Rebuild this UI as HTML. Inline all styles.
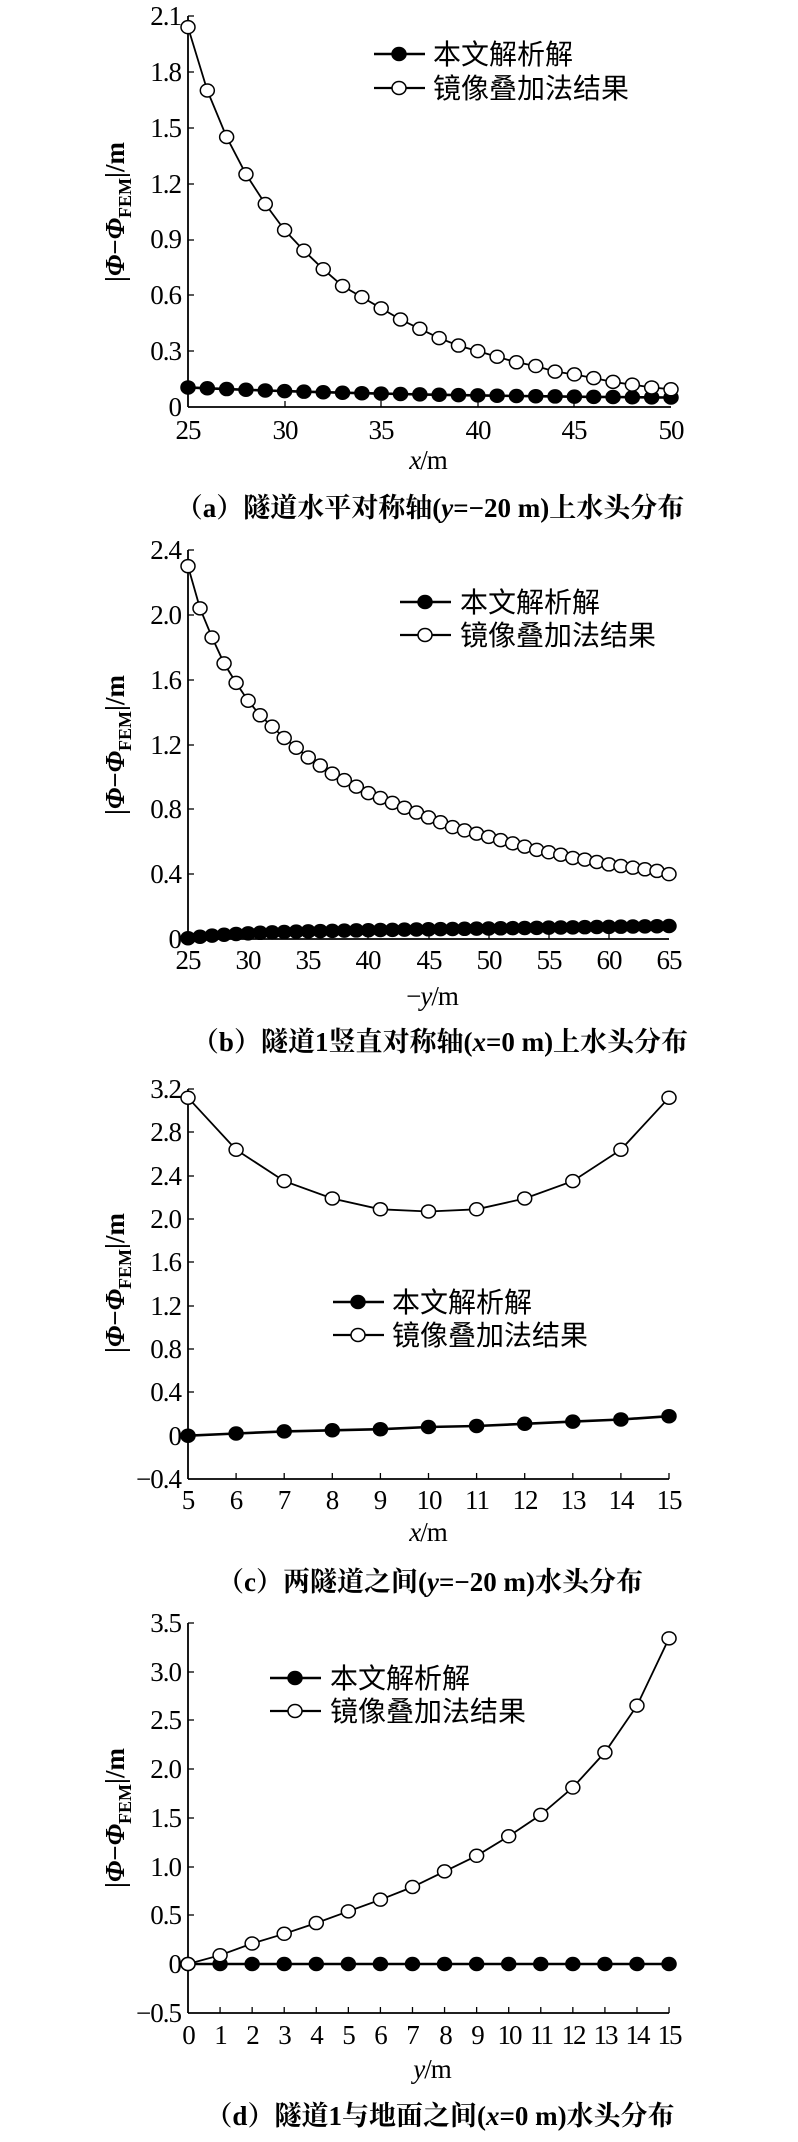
<!DOCTYPE html>
<html><head><meta charset="utf-8"><style>
html,body{margin:0;padding:0;background:#fff;}
svg{display:block;}
text{font-family:"Liberation Serif","Noto Serif CJK SC","Noto Sans CJK SC",serif;fill:#000;}
.t{font-size:27px;letter-spacing:-1px;}
.lg{font-size:28px;font-family:"Liberation Serif","Noto Sans CJK SC",sans-serif;}
.cap{font-size:27px;font-family:"Liberation Serif","Noto Serif CJK SC",serif;font-weight:bold;}
.yl{font-size:27px;font-weight:bold;}
</style></head><body>
<svg id="s" width="798" height="2142" viewBox="0 0 798 2142" xmlns="http://www.w3.org/2000/svg">
<g id="g"></g>
<!-- Panel a -->
<g class="t" text-anchor="end" id="ayl">
<text x="181" y="24">2.1</text><text x="181" y="105">1.8</text><text x="181" y="185">1.5</text><text x="181" y="265">1.2</text><text x="181" y="345">0.9</text><text x="181" y="425">0.6</text><text x="181" y="360">0.3</text><text x="181" y="415">0</text>
</g>
<g class="t" text-anchor="middle">
<text x="188" y="439">25</text><text x="285" y="439">30</text><text x="381" y="439">35</text><text x="478" y="439">40</text><text x="574" y="439">45</text><text x="671" y="439">50</text>
</g>
<text class="t" x="428" y="469" text-anchor="middle"><tspan font-style="italic">x</tspan>/m</text>
<text class="cap" x="430" y="517" text-anchor="middle">（a）隧道水平对称轴(<tspan font-style="italic">y</tspan>=−20 m)上水头分布</text>
<text class="lg" x="433" y="64">本文解析解</text>
<text class="lg" x="433" y="98">镜像叠加法结果</text>
<text class="yl" transform="translate(124,212) rotate(-90)" text-anchor="middle">|<tspan font-style="italic">Φ</tspan>−<tspan font-style="italic">Φ</tspan><tspan font-size="18" dy="7">FEM</tspan><tspan dy="-7">|/m</tspan></text>

<!-- Panel b -->
<g class="t" text-anchor="end">
<text x="181" y="559">2.4</text><text x="181" y="624">2.0</text><text x="181" y="689">1.6</text><text x="181" y="754">1.2</text><text x="181" y="818">0.8</text><text x="181" y="883">0.4</text><text x="181" y="948">0</text>
</g>
<g class="t" text-anchor="middle">
<text x="188" y="969">25</text><text x="248" y="969">30</text><text x="308" y="969">35</text><text x="368" y="969">40</text><text x="429" y="969">45</text><text x="489" y="969">50</text><text x="549" y="969">55</text><text x="609" y="969">60</text><text x="669" y="969">65</text>
</g>
<text class="t" x="432" y="1005" text-anchor="middle">−<tspan font-style="italic">y</tspan>/m</text>
<text class="cap" x="440" y="1051" text-anchor="middle">（b）隧道1竖直对称轴(<tspan font-style="italic">x</tspan>=0 m)上水头分布</text>
<text class="lg" x="460" y="612">本文解析解</text>
<text class="lg" x="460" y="645">镜像叠加法结果</text>
<text class="yl" transform="translate(124,745) rotate(-90)" text-anchor="middle">|<tspan font-style="italic">Φ</tspan>−<tspan font-style="italic">Φ</tspan><tspan font-size="18" dy="7">FEM</tspan><tspan dy="-7">|/m</tspan></text>

<!-- Panel c -->
<g class="t" text-anchor="end">
<text x="181" y="1098">3.2</text><text x="181" y="1141">2.8</text><text x="181" y="1185">2.4</text><text x="181" y="1228">2.0</text><text x="181" y="1271">1.6</text><text x="181" y="1315">1.2</text><text x="181" y="1358">0.8</text><text x="181" y="1401">0.4</text><text x="181" y="1445">0</text><text x="181" y="1488">−0.4</text>
</g>
<g class="t" text-anchor="middle">
<text x="188" y="1509">5</text><text x="236" y="1509">6</text><text x="284" y="1509">7</text><text x="332" y="1509">8</text><text x="380" y="1509">9</text><text x="429" y="1509">10</text><text x="477" y="1509">11</text><text x="525" y="1509">12</text><text x="573" y="1509">13</text><text x="621" y="1509">14</text><text x="669" y="1509">15</text>
</g>
<text class="t" x="428" y="1541" text-anchor="middle"><tspan font-style="italic">x</tspan>/m</text>
<text class="cap" x="430" y="1591" text-anchor="middle">（c）两隧道之间(<tspan font-style="italic">y</tspan>=−20 m)水头分布</text>
<text class="lg" x="392" y="1312">本文解析解</text>
<text class="lg" x="392" y="1345">镜像叠加法结果</text>
<text class="yl" transform="translate(124,1283) rotate(-90)" text-anchor="middle">|<tspan font-style="italic">Φ</tspan>−<tspan font-style="italic">Φ</tspan><tspan font-size="18" dy="7">FEM</tspan><tspan dy="-7">|/m</tspan></text>

<!-- Panel d -->
<g class="t" text-anchor="end">
<text x="181" y="1632">3.5</text><text x="181" y="1681">3.0</text><text x="181" y="1729">2.5</text><text x="181" y="1778">2.0</text><text x="181" y="1827">1.5</text><text x="181" y="1876">1.0</text><text x="181" y="1924">0.5</text><text x="181" y="1973">0</text><text x="181" y="2022">−0.5</text>
</g>
<g class="t" text-anchor="middle" style="letter-spacing:-2px">
<text x="188" y="2044">0</text><text x="220" y="2044">1</text><text x="252" y="2044">2</text><text x="284" y="2044">3</text><text x="316" y="2044">4</text><text x="348" y="2044">5</text><text x="380" y="2044">6</text><text x="412" y="2044">7</text><text x="445" y="2044">8</text><text x="477" y="2044">9</text><text x="509" y="2044">10</text><text x="541" y="2044">11</text><text x="573" y="2044">12</text><text x="605" y="2044">13</text><text x="637" y="2044">14</text><text x="669" y="2044">15</text>
</g>
<text class="t" x="432" y="2078" text-anchor="middle"><tspan font-style="italic">y</tspan>/m</text>
<text class="cap" x="440" y="2125" text-anchor="middle">（d）隧道1与地面之间(<tspan font-style="italic">x</tspan>=0 m)水头分布</text>
<text class="lg" x="330" y="1688">本文解析解</text>
<text class="lg" x="330" y="1721">镜像叠加法结果</text>
<text class="yl" transform="translate(124,1818) rotate(-90)" text-anchor="middle">|<tspan font-style="italic">Φ</tspan>−<tspan font-style="italic">Φ</tspan><tspan font-size="18" dy="7">FEM</tspan><tspan dy="-7">|/m</tspan></text>
</svg>
<script>
var NS="http://www.w3.org/2000/svg",g=document.getElementById("g");
function el(n,a){var e=document.createElementNS(NS,n);for(var k in a)e.setAttribute(k,a[k]);g.appendChild(e);return e;}
function line(x1,y1,x2,y2,w){el("line",{x1:x1,y1:y1,x2:x2,y2:y2,stroke:"#000","stroke-width":w||1.8});}
function mk(x,y,f){el("ellipse",{cx:x,cy:y,rx:7,ry:6.5,fill:f?"#000":"#fff",stroke:"#000","stroke-width":1.5});}
function series(xs,vs,X,Y,f){var d="";for(var i=0;i<xs.length;i++)d+=(i?"L":"M")+X(xs[i]).toFixed(1)+" "+Y(vs[i]).toFixed(1);
 el("path",{d:d,fill:"none",stroke:"#000","stroke-width":f?2.6:1.8});for(i=0;i<xs.length;i++)mk(X(xs[i]),Y(vs[i]),f);}
function axes(top,bot,right,xt,yt){line(188,top,188,bot);line(188,bot,right,bot);
 xt.forEach(function(x){line(x,bot,x,bot-6,1.3)});yt.forEach(function(y){line(188,y,194,y,1.3)});}
function legend(x1,y1,y2){line(x1,y1,x1+51,y1,2.6);mk(x1+25,y1,true);line(x1,y2,x1+51,y2,2.2);mk(x1+25,y2,false);}
function rng(a,b){var r=[];for(var i=a;i<=b;i++)r.push(i);return r;}
// a
(function(){var X=function(x){return 188+(x-25)/25*483},Y=function(v){return 407-v*186.2};
axes(16,407,671,[285,381,478,574],[16,72,128,184,240,295,351]);
var xs=rng(25,50);
var o=[2.04,1.70,1.45,1.25,1.09,0.95,0.84,0.74,0.65,0.59,0.53,0.47,0.42,0.37,0.33,0.30,0.27,0.24,0.22,0.19,0.175,0.155,0.135,0.12,0.105,0.095];
var f=xs.map(function(x){return 0.04+0.065*Math.exp(-(x-25)/14)});
series(xs,f,X,Y,true);series(xs,o,X,Y,false);legend(374,54,88);
var t=document.getElementById("ayl").children;var vals=[2.1,1.8,1.5,1.2,0.9,0.6,0.3,0];
for(var i=0;i<t.length;i++)t[i].setAttribute("y",(407-vals[i]*186.2+9).toFixed(0));
})();
// b
(function(){var X=function(x){return 188+(x-25)/40*481},Y=function(v){return 939-v*162.1};
axes(550,939,669,[248,308,368,429,489,549,609],[550,615,680,745,809,874]);
var xs=rng(25,65);
var o=[2.3,2.04,1.86,1.70,1.58,1.47,1.38,1.31,1.24,1.18,1.12,1.07,1.02,0.98,0.94,0.90,0.87,0.84,0.81,0.78,0.75,0.72,0.69,0.67,0.65,0.63,0.61,0.59,0.57,0.55,0.535,0.52,0.50,0.49,0.475,0.46,0.45,0.44,0.43,0.42,0.40];
var f=xs.map(function(x){return 0.005+0.035*(1-Math.exp(-(x-25)/4))+0.04*(x-25)/40});
series(xs,f,X,Y,true);series(xs,o,X,Y,false);legend(400,602,635);})();
// c
(function(){var X=function(x){return 188+(x-5)*48.1},Y=function(v){return 1435.7-v*108.33};
axes(1089,1479,669,rng(6,15).map(X),[1089,1132,1176,1219,1262,1306,1349,1392,1436]);
var xs=rng(5,15);var o=[3.12,2.64,2.35,2.19,2.09,2.07,2.09,2.19,2.35,2.64,3.12];
var f=[0.0,0.02,0.04,0.05,0.06,0.08,0.09,0.11,0.13,0.15,0.18];
series(xs,f,X,Y,true);series(xs,o,X,Y,false);legend(333,1302,1335);})();
// d
(function(){var X=function(x){return 188+x*32.07},Y=function(v){return 1964-v*97.5};
axes(1623,2013,669,rng(1,15).map(X),[1623,1672,1720,1769,1818,1867,1915,1964]);
var xs=rng(0,15);var o=[0,0.09,0.21,0.31,0.42,0.54,0.66,0.79,0.95,1.11,1.31,1.53,1.81,2.17,2.65,3.34];
var f=xs.map(function(){return 0});
series(xs,f,X,Y,true);series(xs,o,X,Y,false);legend(270,1678,1711);})();
</script>
</body></html>
